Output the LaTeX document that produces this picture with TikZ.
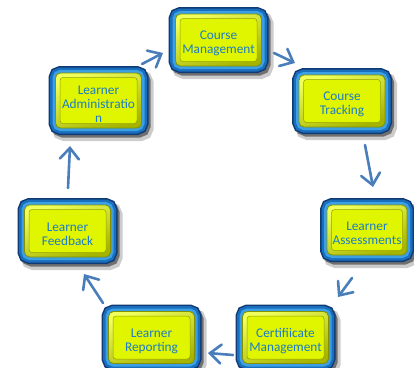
\documentclass[tikz,border=0pt]{standalone}
\usepackage{fontspec}
\setmainfont{Carlito}
\usetikzlibrary{arrows.meta}

\definecolor{rimdark}{RGB}{16,58,115}
\definecolor{rimmid}{RGB}{26,110,190}
\definecolor{rimlight}{RGB}{60,160,228}
\definecolor{lime}{RGB}{224,246,0}
\definecolor{limelight}{RGB}{240,255,90}
\definecolor{limedark}{RGB}{165,180,0}
\definecolor{bevel}{RGB}{150,160,0}
\definecolor{labelblue}{RGB}{28,124,198}
\definecolor{flowblue}{RGB}{74,126,187}

% a tall strut opening the first line sets each label a little low
\newcommand\lowstrut{\rule{0pt}{16pt}}

\tikzset{
  lmsbox/.style={
    rectangle, rounded corners=5pt,
    minimum width=86pt, minimum height=52pt,
    inner sep=0pt, align=center, text=labelblue,
    font=\fontsize{13.3}{14}\selectfont,
    draw=limedark!80!black, line width=0.8pt,
    % soft drop shadow under the blue frame
    preaction={draw=black, opacity=0.2, line width=16pt,
               transform canvas={shift={(4pt,-5pt)}}},
    preaction={draw=black, opacity=0.45, line width=13pt,
               transform canvas={shift={(2.5pt,-3pt)}}},
    % layered blue frame, darker at its outer edge
    preaction={draw=rimdark, line width=14pt},
    preaction={draw=rimmid, line width=11pt},
    preaction={draw=rimlight, line width=6pt},
    % bevelled yellow face
    path picture={
      \shade[top color=limelight, bottom color=limedark, shading angle=20]
        (path picture bounding box.north west) rectangle
        (path picture bounding box.south east);
      \fill[lime, draw=bevel, line width=0.5pt, rounded corners=3pt]
        ([shift={(4.5pt,-4.5pt)}]path picture bounding box.north west) rectangle
        ([shift={(-4.5pt,4.5pt)}]path picture bounding box.south east);
    }
  },
  flow/.style={draw=flowblue, line width=2.6pt, line cap=round,
    -{Straight Barb[length=11pt,width=19pt,line cap=round]}}
}

\begin{document}
\begin{tikzpicture}[x=1pt,y=-1pt]
  \useasboundingbox (0,0) rectangle (414,367);

  % the seven stages of the cycle
  \node[lmsbox] (cm)   at (218.5,40)  {\lowstrut Course\\Management};
  \node[lmsbox] (ct)   at (342,101)   {\lowstrut Course\\Tracking};
  \node[lmsbox, minimum width=80pt, minimum height=50pt]
                (las)  at (367,230)   {\lowstrut Learner\\Assessments};
  \node[lmsbox] (cert) at (285.5,337.5) {\lowstrut Certifiicate\\Management};
  \node[lmsbox] (lr)   at (151.5,337.5) {\lowstrut Learner\\Reporting};
  \node[lmsbox] (lf)   at (67.5,231)  {\lowstrut Learner\\Feedback};
  \node[lmsbox, minimum height=55pt]
                (la)   at (98.5,100.5) {\lowstrut Learner\\Administratio\\n};

  % arrow end points between neighbouring stages
  \coordinate (a1s) at (142,64);  \coordinate (a1e) at (163,53);
  \coordinate (a2s) at (274,53);  \coordinate (a2e) at (295,63);
  \coordinate (a3s) at (365,145); \coordinate (a3e) at (373,187);
  \coordinate (a4s) at (352,278); \coordinate (a4e) at (338,297);
  \coordinate (a5s) at (233,355); \coordinate (a5e) at (208,353);
  \coordinate (a6s) at (103,303); \coordinate (a6e) at (84,274);
  \coordinate (a7s) at (68,188);  \coordinate (a7e) at (70,146);

  \draw[flow] (a1s) -- (a1e);
  \draw[flow] (a2s) -- (a2e);
  \draw[flow] (a3s) -- (a3e);
  \draw[flow] (a4s) -- (a4e);
  \draw[flow] (a5s) -- (a5e);
  \draw[flow] (a6s) -- (a6e);
  \draw[flow] (a7s) -- (a7e);
\end{tikzpicture}
\end{document}
